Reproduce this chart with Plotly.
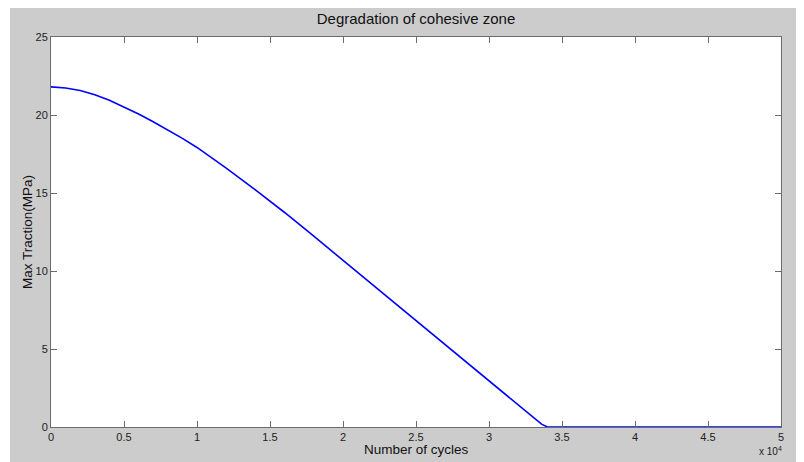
import plotly.graph_objects as go

# Data (cycles, max traction in MPa)
cycles = [0, 1000, 2000, 3000, 4000, 5000, 6000, 7000, 8000, 9000, 10000,
          12000, 14000, 16000, 18000, 20000, 22000, 24000, 26000, 28000,
          30000, 32000, 33000, 33600, 34000, 50000]
traction = [21.8, 21.73, 21.57, 21.3, 20.94, 20.52, 20.06, 19.57, 19.05, 18.5, 17.92,
            16.6, 15.2, 13.75, 12.23, 10.69, 9.14, 7.59, 6.04, 4.49,
            2.94, 1.40, 0.63, 0.18, 0.0, 0.0]

x_tickvals = [0, 5000, 10000, 15000, 20000, 25000, 30000, 35000, 40000, 45000, 50000]
x_ticktext = ["0", "0.5", "1", "1.5", "2", "2.5", "3", "3.5", "4", "4.5", "5"]
y_tickvals = [0, 5, 10, 15, 20, 25]

# page has an 8px body margin, so the figure is laid out 8px in from top/left
W, H = 796, 454
L, R, T, B = 43, 23, 29, 35
pw, ph = W - L - R, H - T - B

font = "Liberation Sans, Arial, sans-serif"

fig = go.Figure()
fig.add_trace(go.Scatter(x=cycles, y=traction, mode="lines",
                         line=dict(color="#0000ff", width=1.6),
                         showlegend=False, hoverinfo="skip"))

axis_common = dict(showgrid=False, zeroline=False, showline=True, linecolor="#6a6a6a",
                   linewidth=1, mirror="ticks", ticks="inside", ticklen=6, automargin=False,
                   tickcolor="#6a6a6a", tickfont=dict(family=font, size=11, color="#222"))

title_font = dict(family=font, size=13.5, color="#111")

fig.update_layout(
    width=W, height=H,
    margin=dict(l=L, r=R, t=T, b=B, pad=0, autoexpand=False),
    paper_bgcolor="white", plot_bgcolor="rgba(0,0,0,0)",
    title=dict(text="Degradation of cohesive zone", x=(L + pw / 2) / W, xanchor="center",
               y=1 - 11 / H, yanchor="middle",
               font=dict(family=font, size=15, color="#111")),
    xaxis=dict(range=[0, 50000], tickvals=x_tickvals, ticktext=x_ticktext, **axis_common),
    yaxis=dict(range=[0, 25], tickvals=y_tickvals, **axis_common),
    shapes=[
        dict(type="rect", xref="paper", yref="paper", layer="below",
             x0=(2 - L) / pw, x1=(W - L) / pw, y0=-B / ph, y1=(T + ph) / ph,
             fillcolor="#cccccc", line=dict(width=0)),
        dict(type="rect", xref="paper", yref="paper", layer="below",
             x0=0, x1=1, y0=0, y1=1, fillcolor="white", line=dict(width=0)),
    ],
    annotations=[
        dict(text="Number of cycles", xref="paper", yref="paper",
             x=0.5, y=-(441 - (T + ph)) / ph, xanchor="center", yanchor="middle",
             showarrow=False, font=title_font),
        dict(text="Max Traction(MPa)", xref="paper", yref="paper", textangle=-90,
             x=(19 - L) / pw, y=0.5, xanchor="center", yanchor="middle",
             showarrow=False, font=title_font),
        dict(text="x 10<sup>4</sup>", xref="paper", yref="paper",
             x=(762 - L) / pw, y=-(443 - (T + ph)) / ph, xanchor="center", yanchor="middle",
             showarrow=False, font=dict(family=font, size=10, color="#222")),
    ],
)

fig.write_html("out.html")
